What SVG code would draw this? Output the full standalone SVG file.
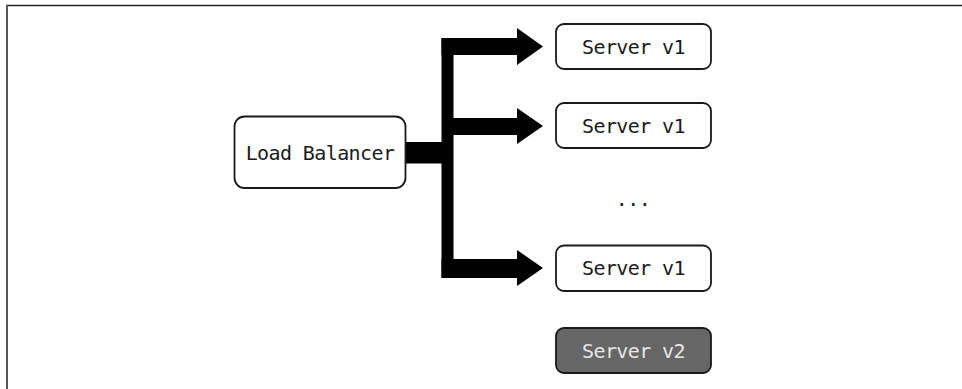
<svg xmlns="http://www.w3.org/2000/svg" width="962" height="389" viewBox="0 0 962 389">
<style>
.box{fill:#fff;stroke:#1a1a1a;stroke-width:1.8}
.dark{fill:#666;stroke:#1a1a1a;stroke-width:1.8}
.t{font-family:"DejaVu Sans Mono","Liberation Mono",monospace;font-size:20px;letter-spacing:-0.6px;fill:#1a1a1a;text-anchor:middle}
.tl{fill:#e6e6e6}
.arr{fill:#000}
</style>
<rect width="962" height="389" fill="#fff"/>
<g id="frame">
<line x1="6" y1="5.5" x2="962" y2="5.5" stroke="#222" stroke-width="1.5"/>
<line x1="7" y1="5" x2="7" y2="389" stroke="#555" stroke-width="2"/>
</g>
<g id="connectors">
<rect class="arr" x="405" y="142" width="48" height="21.5"/>
<rect class="arr" x="441.5" y="38" width="12" height="240"/>
<path class="arr" d="M441.5 38 H517 V28 L543 46.5 L517 65 V55 H441.5 Z"/>
<path class="arr" d="M453 118 H517 V108 L543 126 L517 144 V135 H453 Z"/>
<path class="arr" d="M453 259 H517 V250 L543 268 L517 286 V278 H441.5 V259 Z"/>
</g>
<g id="lb">
<rect class="box" x="234.5" y="116.5" width="171" height="71.5" rx="10"/>
<text class="t" x="320" y="160">Load Balancer</text>
</g>
<g id="s1">
<rect class="box" x="556" y="24" width="155" height="45" rx="8"/>
<text class="t" x="633.5" y="53.5">Server v1</text>
</g>
<g id="s2">
<rect class="box" x="556" y="103" width="155" height="45" rx="8"/>
<text class="t" x="633.5" y="132.5">Server v1</text>
</g>
<g id="dots">
<text class="t" x="633" y="206">...</text>
</g>
<g id="s3">
<rect class="box" x="556" y="245.5" width="155" height="45.5" rx="8"/>
<text class="t" x="633.5" y="275">Server v1</text>
</g>
<g id="s4">
<rect class="dark" x="556" y="328" width="155" height="45" rx="8"/>
<text class="t tl" x="633.5" y="357.5">Server v2</text>
</g>
</svg>
